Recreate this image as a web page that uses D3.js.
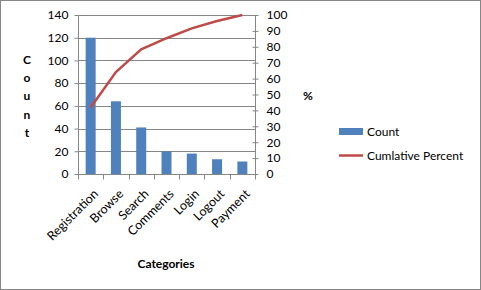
<!DOCTYPE html>
<html><head><meta charset="utf-8">
<script src="https://cdn.jsdelivr.net/npm/d3@7"></script>
<style>body{margin:0;background:#fff}svg{display:block}text{font-family:Lato,"Open Sans",sans-serif}</style>
</head><body><svg id="c" width="481" height="290"></svg>
<script>
const categories = ["Registration","Browse","Search","Comments","Login","Logout","Payment"];
const counts = [120,64,41,20,18,13,11];
const cumulativePercent = [41.8,64.1,78.4,85.4,91.6,96.2,100];
const countTicks = [0,20,40,60,80,100,120,140];
const percentTicks = [0,10,20,30,40,50,60,70,80,90,100];

const svg = d3.select("#c");
svg.append("rect").attr("x",0.5).attr("y",0.5).attr("width",480).attr("height",289).attr("fill","#fff").attr("stroke","#868686");

const L=78, R=255, T=15, B=174;
const x = d3.scaleBand().domain(categories).range([L,R]);
const y = d3.scaleLinear().domain([0,140]).range([B,T]);
const y2 = d3.scaleLinear().domain([0,100]).range([B,T]);

// gridlines
svg.append("g").selectAll("line").data(countTicks.filter(d=>d>0)).join("line")
  .attr("x1",L).attr("x2",R).attr("y1",d=>Math.round(y(d))+0.5).attr("y2",d=>Math.round(y(d))+0.5)
  .attr("stroke","#868686").attr("stroke-width",1);

// bars
const bw = 10;
svg.append("g").selectAll("rect").data(counts).join("rect")
  .attr("x",(d,i)=>x(categories[i])+x.bandwidth()/2-bw/2)
  .attr("width",bw)
  .attr("y",d=>y(d)).attr("height",d=>B-y(d))
  .attr("fill","#4F81BD");

// left axis
const ga = svg.append("g").attr("transform",`translate(${L+0.5},0)`)
  .call(d3.axisLeft(y).tickValues(countTicks).tickSize(4).tickPadding(6));
ga.select(".domain").attr("stroke","#868686").attr("d",`M0,${T}V${B}`);
ga.selectAll(".tick line").attr("stroke","#868686");
ga.selectAll(".tick text").attr("font-size",12).attr("fill","#000");

// right axis
const gr = svg.append("g").attr("transform",`translate(${R+0.5},0)`)
  .call(d3.axisRight(y2).tickValues(percentTicks).tickSize(3).tickPadding(8));
gr.select(".domain").attr("stroke","#868686").attr("d",`M0,${T}V${B}`);
gr.selectAll(".tick line").attr("stroke","#868686").attr("x1",-3).attr("x2",3);
gr.selectAll(".tick text").attr("font-size",12).attr("fill","#000");

// bottom axis
const gb = svg.append("g").attr("transform",`translate(0,${B+0.5})`);
gb.append("line").attr("x1",L).attr("x2",R+1).attr("stroke","#868686");
gb.selectAll("line.t").data(d3.range(categories.length+1)).join("line").attr("class","t")
  .attr("x1",i=>Math.round(L+i*x.step())+0.5).attr("x2",i=>Math.round(L+i*x.step())+0.5)
  .attr("y1",0).attr("y2",5).attr("stroke","#868686");
gb.selectAll("text").data(categories).join("text")
  .attr("transform",d=>`translate(${x(d)+x.bandwidth()/2+2},${14}) rotate(-45)`)
  .attr("text-anchor","end").attr("dy","0.7em").attr("font-size",12.5).text(d=>d);

// cumulative line
svg.append("path").datum(cumulativePercent)
  .attr("d",d3.line().x((d,i)=>x(categories[i])+x.bandwidth()/2).y(d=>y2(d)))
  .attr("fill","none").attr("stroke","#BE4B48").attr("stroke-width",2.5);

// axis titles
svg.append("g").selectAll("text").data("Count".split("")).join("text")
  .attr("x",27).attr("y",(d,i)=>64+i*18.2).attr("text-anchor","middle")
  .attr("font-size",12).attr("font-weight","bold").text(d=>d);
svg.append("text").attr("x",308).attr("y",100).attr("text-anchor","middle")
  .attr("font-size",12).attr("font-weight","bold").text("%");
svg.append("text").attr("x",166).attr("y",268).attr("text-anchor","middle")
  .attr("font-size",12).attr("font-weight","bold").text("Categories");

// legend
const lg = svg.append("g");
lg.append("rect").attr("x",339).attr("y",128).attr("width",24).attr("height",7).attr("fill","#4F81BD");
lg.append("text").attr("x",367).attr("y",136).attr("font-size",12).text("Count");
lg.append("line").attr("x1",339).attr("x2",363).attr("y1",155.5).attr("y2",155.5).attr("stroke","#BE4B48").attr("stroke-width",2.5);
lg.append("text").attr("x",367).attr("y",160).attr("font-size",12).text("Cumlative Percent");
</script></body></html>
